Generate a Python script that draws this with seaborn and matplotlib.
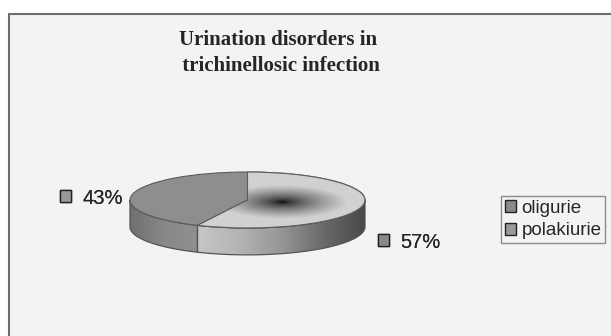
import numpy as np
import seaborn as sns
import matplotlib
import matplotlib.pyplot as plt
from matplotlib.patches import Rectangle, PathPatch, Patch
from matplotlib.path import Path

matplotlib.use('Agg')

categories = ['oligurie', 'polakiurie']
values = [57, 43]
title = 'Urination disorders in\n trichinellosic infection'

sns.set_style('white')
plt.rcParams['font.family'] = ['Liberation Sans', 'DejaVu Sans']

W, H = 611, 336
fig = plt.figure(figsize=(W / 100, H / 100), dpi=100)
fig.patch.set_facecolor('white')


def px(l, t, w, h):
    return [l / W, 1 - (t + h) / H, w / W, h / H]


# chart area frame
fig.patches.append(Rectangle((9 / W, -0.05), 1.0, 1 - 14 / H + 0.05,
                             transform=fig.transFigure, facecolor='#f2f3f3',
                             edgecolor='#6e6e6e', linewidth=1.5, zorder=-5))

# pie geometry: ellipse centre (247.5, 200) px, radii 117.5 x 28 px
depth = 0.96
cx, cy, sx, sy = 247.5, 200, 117.5, 28
ax = fig.add_axes(px(cx - sx, cy - sy, 2 * sx, (2 + depth) * sy))
ax.set_zorder(2)

wedges, _ = ax.pie(values, startangle=90, counterclock=False,
                   colors=['#a8a8a8', '#8e8e8e'],
                   wedgeprops=dict(edgecolor='#5c5c5c', linewidth=0.8, zorder=4))
for w in wedges:
    w.set_clip_on(False)

extent = (-1, 1, -1 - depth, 1)
xs = np.linspace(-1, 1, 500)


def side_path(w):
    t = np.radians(np.linspace(w.theta1, w.theta2, 1441))
    t = t[np.sin(t) <= 1e-9]
    top = np.column_stack([np.cos(t), np.sin(t)])
    bot = np.column_stack([np.cos(t[::-1]), np.sin(t[::-1]) - depth])
    return Path(np.vstack([top, bot, top[:1]]), closed=True)


# side walls with horizontal shading
x_split = np.cos(np.radians(wedges[0].theta1))
side_cmaps = [
    (sns.blend_palette(['#c6c6c6', '#b4b4b4', '#959595', '#6a6a6a', '#484848'], as_cmap=True),
     np.clip((xs - x_split) / (1 - x_split), 0, 1)),
    (sns.blend_palette(['#707070', '#888888', '#909090'], as_cmap=True),
     np.clip((xs + 1) / (x_split + 1), 0, 1)),
]
for w, (cmap, grad) in zip(wedges, side_cmaps):
    p = side_path(w)
    patch = PathPatch(p, facecolor='none', edgecolor='#555555', linewidth=0.9,
                      zorder=3, clip_on=False)
    ax.add_patch(patch)
    im = ax.imshow(np.vstack([grad, grad]), extent=extent, aspect='auto',
                   cmap=cmap, vmin=0, vmax=1, zorder=2, interpolation='bilinear')
    im.set_clip_path(patch)

# radial shading on the top of the oligurie slice
mid = np.radians((wedges[0].theta1 + wedges[0].theta2) / 2)
gx, gy = 0.3 * np.cos(mid), 0.3 * np.sin(mid)
X, Y = np.meshgrid(xs, np.linspace(1, -1 - depth, 300))
r = np.hypot((X - gx) / 0.55, (Y - gy) / 0.6)
shade = 0.02 + 0.8 * np.clip(r, 0, 1) ** 0.65
im = ax.imshow(shade, extent=extent, aspect='auto', cmap='gray', vmin=0, vmax=1,
               zorder=5, interpolation='bilinear')
im.set_clip_path(wedges[0])
edge = PathPatch(wedges[0].get_path(), transform=wedges[0].get_transform(),
                 facecolor='none', edgecolor='#5c5c5c', linewidth=0.8, zorder=6,
                 clip_on=False)
ax.add_patch(edge)

ax.set_aspect('auto')
ax.set_xlim(-1, 1)
ax.set_ylim(-1 - depth, 1)
ax.axis('off')

# handles
handles = [Patch(facecolor='#8a8a8a', edgecolor='#222222', linewidth=1.0),
           Patch(facecolor='#999999', edgecolor='#222222', linewidth=1.0)]

# data labels
label_pos = [(378, 242), (60, 198)]
for h, v, (lx, ly) in zip(handles, values, label_pos):
    leg = fig.legend([h], [f'{v}%'], loc='center left',
                     bbox_to_anchor=(lx / W, 1 - ly / H), frameon=False,
                     fontsize=14.5, handlelength=0.55, handleheight=0.55,
                     handletextpad=0.55, borderpad=0, borderaxespad=0)
    fig.add_artist(leg)

fig.legend(handles, categories, loc='upper left',
           bbox_to_anchor=(501 / W, 1 - 196 / H), frameon=True, fancybox=False,
           edgecolor='#8c8c8c', facecolor='#f2f3f3', framealpha=1,
           fontsize=13.5, handlelength=0.6, handleheight=0.6, handletextpad=0.3,
           labelspacing=0.3, borderpad=0.2, borderaxespad=0)

fig.text(278 / W, 1 - 53 / H, title, ha='center', va='center',
         family='Liberation Serif', weight='bold', fontsize=15, linespacing=1.35)

fig.savefig('out.png', dpi=100)
